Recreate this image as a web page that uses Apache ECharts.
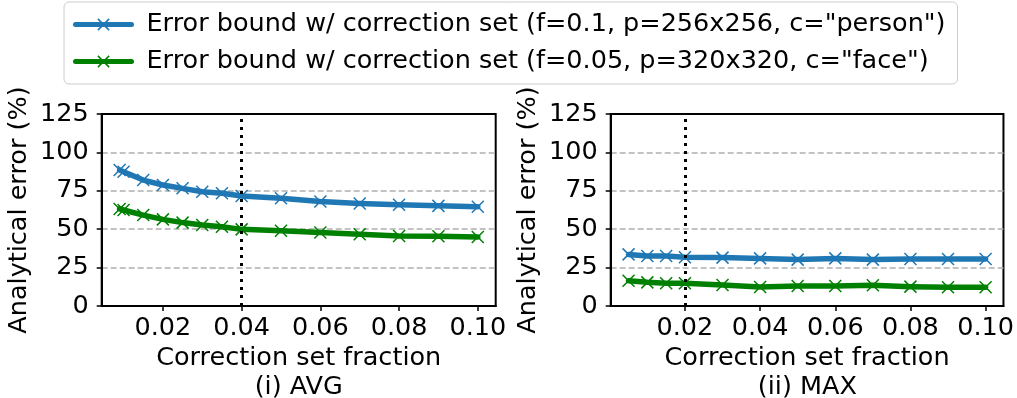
<!DOCTYPE html>
<html>
<head>
<meta charset="utf-8">
<script src="https://cdn.jsdelivr.net/npm/echarts@6/dist/echarts.min.js"></script>
<style>
  html, body { margin: 0; padding: 0; background: #fff; }
  #chart { width: 1017px; height: 398px; }
</style>
</head>
<body>
<div id="chart"></div>
<script>
// Correction set fraction sampled for each panel
const avgFractions = [0.009, 0.01, 0.015, 0.02, 0.025, 0.03, 0.035, 0.04, 0.05, 0.06, 0.07, 0.08, 0.09, 0.1];
const maxFractions = [0.005, 0.01, 0.015, 0.02, 0.03, 0.04, 0.05, 0.06, 0.07, 0.08, 0.09, 0.1];

// Analytical error (%) — (i) AVG
const avgPerson = [88.5, 87.4, 82.0, 78.8, 76.6, 74.4, 73.4, 71.6, 70.1, 68.0, 66.7, 65.9, 65.2, 64.6];
const avgFace   = [63.2, 62.5, 59.2, 56.4, 54.3, 52.7, 51.6, 49.9, 49.0, 47.8, 46.7, 45.6, 45.4, 44.9];

// Analytical error (%) — (ii) MAX
const maxPerson = [33.6, 32.5, 32.5, 31.7, 31.5, 31.0, 30.2, 31.0, 30.2, 30.6, 30.6, 30.6];
const maxFace   = [16.5, 15.4, 14.8, 14.8, 13.7, 12.4, 13.0, 13.0, 13.5, 12.6, 12.2, 12.2];

// Tick labels and reference markers
const xTicks = [0.02, 0.04, 0.06, 0.08, 0.10];
const yTicks = [0, 25, 50, 75, 100, 125];
const avgMarker = 0.04;
const maxMarker = 0.02;

const seriesNames = [
  'Error bound w/ correction set (f=0.1, p=256x256, c="person")',
  'Error bound w/ correction set (f=0.05, p=320x320, c="face")'
];
const panelTitles = ['(i) AVG', '(ii) MAX'];
const xTitle = 'Correction set fraction';
const yTitle = 'Analytical error (%)';

const BLUE = '#1f77b4';
const GREEN = '#008000';
const FONT = 'DejaVu Sans';
const FS = 25.5;
const CROSS = 'path://M0,0L10,10M10,0L0,10';

const zip = (xs, ys) => xs.map((x, i) => [x, ys[i]]);

// 5% padding on each side of the x data range
function paddedRange(xs) {
  const lo = Math.min(...xs), hi = Math.max(...xs);
  const pad = (hi - lo) * 0.05;
  return [lo - pad, hi + pad];
}

function makeX(gridIndex, xs) {
  const [lo, hi] = paddedRange(xs);
  return {
    type: 'value', gridIndex, min: lo, max: hi,
    name: xTitle, nameLocation: 'middle', nameGap: 39,
    nameTextStyle: { fontFamily: FONT, fontSize: FS, color: '#000' },
    axisLine: { show: true, onZero: false, lineStyle: { color: '#000', width: 2 } },
    axisTick: { show: true, length: 5, lineStyle: { color: '#000', width: 1.5 }, customValues: xTicks },
    axisLabel: { fontFamily: FONT, fontSize: FS, color: '#000', margin: 9,
      customValues: xTicks, formatter: v => v.toFixed(2) },
    splitLine: { show: false }
  };
}

function makeY(gridIndex) {
  return {
    type: 'value', gridIndex, min: 0, max: 125, interval: 25,
    name: yTitle, nameLocation: 'middle', nameGap: 69, nameRotate: 90,
    nameTextStyle: { fontFamily: FONT, fontSize: FS, color: '#000' },
    axisLine: { show: true, lineStyle: { color: '#000', width: 2 } },
    axisTick: { show: true, length: 5, lineStyle: { color: '#000', width: 1.5 } },
    axisLabel: { fontFamily: FONT, fontSize: FS, color: '#000', margin: 13,
      customValues: yTicks },
    splitLine: { show: true, showMinLine: false, showMaxLine: false,
      lineStyle: { color: '#b0b0b0', width: 1.5, type: [6, 3] } }
  };
}

function lineSeries(name, color, idx, xs, ys, marker) {
  const s = {
    name, type: 'line', xAxisIndex: idx, yAxisIndex: idx,
    data: zip(xs, ys),
    symbol: CROSS, symbolSize: 12,
    lineStyle: { color, width: 5.5, cap: 'round', join: 'round' },
    itemStyle: { color, borderColor: color, borderWidth: 1.5 },
    emphasis: { disabled: true },
    animation: false, z: 3
  };
  if (marker !== undefined) {
    s.markLine = {
      silent: true, symbol: 'none', animation: false,
      label: { show: false },
      lineStyle: { color: '#000', width: 3, type: [3, 5] },
      data: [{ xAxis: marker }]
    };
  }
  return s;
}

const grids = [
  { left: 101.7, top: 114, width: 394, height: 192 },
  { left: 610.7, top: 114, width: 393.3, height: 192 }
];

const chart = echarts.init(document.getElementById('chart'), null, { renderer: 'canvas' });
chart.setOption({
  animation: false,
  backgroundColor: '#fff',
  grid: grids.map(g => Object.assign({ show: true, borderColor: '#000', borderWidth: 2,
    backgroundColor: 'transparent', containLabel: false }, g)),
  xAxis: [makeX(0, avgFractions), makeX(1, maxFractions)],
  yAxis: [makeY(0), makeY(1)],
  legend: {
    data: seriesNames,
    orient: 'vertical',
    left: 64, top: 2,
    padding: [8, 12, 8, 9],
    itemWidth: 56, itemHeight: 14, itemGap: 8,
    backgroundColor: '#fff',
    borderColor: '#cccccc', borderWidth: 1, borderRadius: 5,
    lineStyle: { width: 5 },
    itemStyle: { borderWidth: 1.5 },
    textStyle: { fontFamily: FONT, fontSize: FS, color: '#000', lineHeight: 29, padding: [0, 0, 0, 10] },
    selectedMode: false
  },
  series: [
    lineSeries(seriesNames[0], BLUE, 0, avgFractions, avgPerson, avgMarker),
    lineSeries(seriesNames[1], GREEN, 0, avgFractions, avgFace),
    lineSeries(seriesNames[0], BLUE, 1, maxFractions, maxPerson, maxMarker),
    lineSeries(seriesNames[1], GREEN, 1, maxFractions, maxFace)
  ],
  graphic: grids.map((g, i) => ({
    type: 'text',
    x: g.left + g.width / 2, y: 387,
    style: { text: panelTitles[i], font: FS + 'px "' + FONT + '"', fill: '#000',
      textAlign: 'center', textVerticalAlign: 'middle' }
  }))
});
</script>
</body>
</html>
